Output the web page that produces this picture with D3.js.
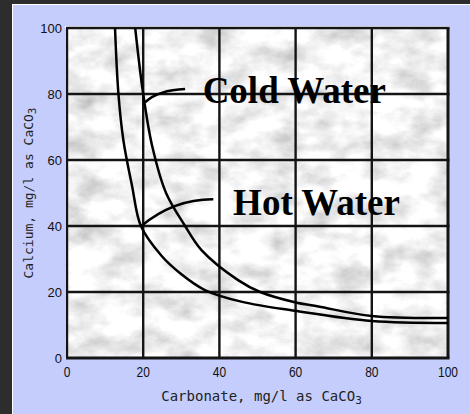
<!DOCTYPE html>
<html><head><meta charset="utf-8">
<script src="https://cdnjs.cloudflare.com/ajax/libs/d3/7.8.5/d3.min.js"></script>
<style>html,body{margin:0;padding:0;background:#2d2d2d;}svg{display:block;}</style>
</head><body>
<script>
// ---- data ----
const xTicks = [0, 20, 40, 60, 80, 100];
const yTicks = [0, 20, 40, 60, 80, 100];
const hotCarbonate = [12.6, 13.5, 14.8, 17.1, 19.4, 24.8, 29.7, 36.2, 46, 59.8, 80, 100];
const hotCalcium   = [100, 80, 66, 52, 40, 31, 25.7, 20.6, 17, 14.3, 11.2, 10.6];
const coldCarbonate = [17.9, 20, 22.4, 26, 31, 35.3, 44.9, 50.7, 59.8, 66, 80, 100];
const coldCalcium   = [100, 80, 64, 50, 40, 32.7, 23.6, 20, 16.9, 15.6, 12.7, 12.1];
const labels = ["Cold Water", "Hot Water"];
const labelCarbonate = [35.6, 43.6];
const labelCalcium = [77.3, 43.3];
// leader lines: start (on curve), control, end
const leaderCarbonate = [[20.5, 24.0, 31.0], [19.5, 28.1, 38.4]];
const leaderCalcium   = [[77.5, 81.2, 81.5], [40.0, 48.2, 48.1]];
const xTitle = "Carbonate, mg/l as CaCO";
const yTitle = "Calcium, mg/l as CaCO";
const sub = "3";

const W = 470, H = 414;
const svg = d3.select("body").append("svg").attr("width", W).attr("height", H);

// frame
svg.append("rect").attr("x", 0).attr("y", 0).attr("width", W).attr("height", H).attr("fill", "#2d2d2d");
svg.append("rect").attr("x", 12).attr("y", 4).attr("width", W - 12).attr("height", H - 4).attr("fill", "#ffffff");
svg.append("rect").attr("x", 13).attr("y", 5).attr("width", W - 13).attr("height", H - 5).attr("fill", "#c4cdfc");

const x = d3.scaleLinear().domain([0, 100]).range([67, 448]);
const y = d3.scaleLinear().domain([0, 100]).range([358, 28]);

const defs = svg.append("defs");
const f = defs.append("filter").attr("id", "marble").attr("x", 0).attr("y", 0).attr("width", 1).attr("height", 1)
  .attr("filterUnits", "objectBoundingBox");
f.append("feTurbulence").attr("type", "fractalNoise").attr("baseFrequency", "0.03 0.045").attr("numOctaves", 5).attr("seed", 11).attr("result", "n");
f.append("feColorMatrix").attr("in", "n").attr("type", "matrix")
  .attr("values", "0.85 0 0 0 0.47  0.85 0 0 0 0.47  0.85 0 0 0 0.48  0 0 0 0 1");
defs.append("clipPath").attr("id", "plotclip").append("rect")
  .attr("x", x(0)).attr("y", y(100)).attr("width", x(100) - x(0)).attr("height", y(0) - y(100));

// white bevel
svg.append("rect").attr("x", x(0) - 2).attr("y", y(100) - 2).attr("width", x(100) - x(0) + 3).attr("height", y(0) - y(100) + 3)
  .attr("fill", "#ffffff");
// marble
svg.append("rect").attr("x", x(0)).attr("y", y(100)).attr("width", x(100) - x(0)).attr("height", y(0) - y(100))
  .attr("fill", "#e4e4e4").attr("filter", "url(#marble)");

// grid
const g = svg.append("g");
g.selectAll("line.v").data(xTicks).join("line")
  .attr("x1", d => x(d)).attr("x2", d => x(d)).attr("y1", y(100)).attr("y2", y(0))
  .attr("stroke", "#141414").attr("stroke-width", d => (d === 100 ? 3 : 2.4));
g.selectAll("line.h").data(yTicks).join("line")
  .attr("y1", d => y(d)).attr("y2", d => y(d)).attr("x1", x(0) - 1).attr("x2", x(100) + 1.5)
  .attr("stroke", "#141414").attr("stroke-width", d => (d === 0 ? 3 : 2.4));

// curves
const line = d3.line().x(d => x(d[0])).y(d => y(d[1])).curve(d3.curveCatmullRom.alpha(0.5));
const cg = svg.append("g").attr("clip-path", "url(#plotclip)");
cg.append("path").datum(hotCarbonate.map((v, i) => [v, hotCalcium[i]])).attr("d", line)
  .attr("fill", "none").attr("stroke", "#000").attr("stroke-width", 2.5);
cg.append("path").datum(coldCarbonate.map((v, i) => [v, coldCalcium[i]])).attr("d", line)
  .attr("fill", "none").attr("stroke", "#000").attr("stroke-width", 2.5);

// leaders
leaderCarbonate.forEach((lx, i) => {
  const ly = leaderCalcium[i];
  const p = d3.path();
  p.moveTo(x(lx[0]), y(ly[0]));
  p.quadraticCurveTo(x(lx[1]), y(ly[1]), x(lx[2]), y(ly[2]));
  svg.append("path").attr("d", p.toString()).attr("fill", "none").attr("stroke", "#000").attr("stroke-width", 2.5);
});

// annotation labels
svg.selectAll("text.ann").data(labels).join("text")
  .attr("x", (d, i) => x(labelCarbonate[i])).attr("y", (d, i) => y(labelCalcium[i]))
  .attr("font-family", "'Liberation Serif','Times New Roman',serif").attr("font-weight", "bold")
  .attr("font-size", 37).attr("fill", "#000").text(d => d);

// axis tick labels
svg.selectAll("text.yt").data(yTicks).join("text")
  .attr("x", x(0) - 5).attr("y", d => y(d)).attr("dy", "0.35em").attr("text-anchor", "end")
  .attr("font-family", "'Liberation Sans',Arial,sans-serif").attr("font-size", 13).attr("fill", "#111")
  .text(d => d);
svg.selectAll("text.xt").data(xTicks).join("text")
  .attr("transform", d => `translate(${x(d)},377) scale(0.8,1)`).attr("text-anchor", "middle")
  .attr("font-family", "'Liberation Sans',Arial,sans-serif").attr("font-size", 15).attr("fill", "#111")
  .text(d => d);

// axis titles
const xt = svg.append("text").attr("x", (x(0) + x(100)) / 2 + 4).attr("y", 401).attr("text-anchor", "middle")
  .attr("font-family", "'DejaVu Sans Mono',monospace").attr("font-size", 14).attr("fill", "#222");
xt.append("tspan").text(xTitle);
xt.append("tspan").attr("dy", 3).attr("font-size", 11).text(sub);

const yt = svg.append("text").attr("transform", `translate(33,${(y(0) + y(100)) / 2}) rotate(-90)`).attr("text-anchor", "middle")
  .attr("font-family", "'DejaVu Sans Mono',monospace").attr("font-size", 13).attr("fill", "#222");
yt.append("tspan").text(yTitle);
yt.append("tspan").attr("dy", 3).attr("font-size", 11).text(sub);
</script>
</body></html>
